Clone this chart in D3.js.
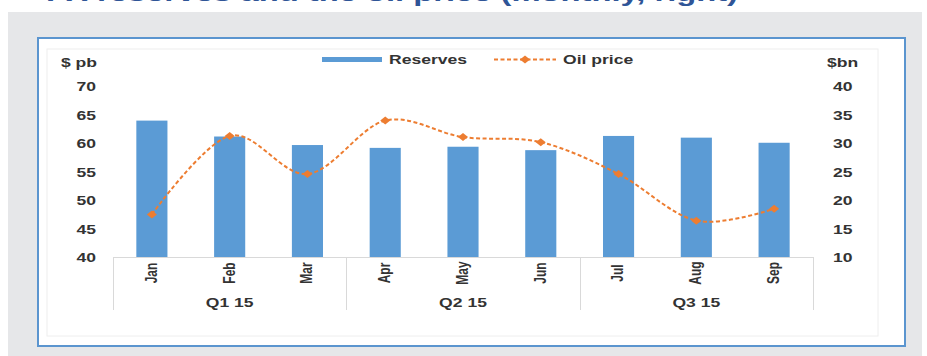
<!DOCTYPE html>
<html>
<head>
<meta charset="utf-8">
<script src="https://cdn.jsdelivr.net/npm/d3@7"></script>
<style>
  html, body { margin: 0; padding: 0; background: #ffffff; }
  svg { display: block; }
  text { font-family: "Liberation Sans", Arial, sans-serif; }
</style>
</head>
<body>
<svg id="chart" width="927" height="356"></svg>
<script>
// Monthly data, 2015
const months = ["Jan", "Feb", "Mar", "Apr", "May", "Jun", "Jul", "Aug", "Sep"];
const quarters = ["Q1 15", "Q2 15", "Q3 15"];
const reserves = [34.0, 31.2, 29.7, 29.2, 29.4, 28.8, 31.3, 31.0, 30.1];   // $bn, right axis
const oilPrice = [47.5, 61.3, 54.6, 64.0, 61.1, 60.2, 54.6, 46.4, 48.5];   // $ pb, left axis
const leftTicks = [40, 45, 50, 55, 60, 65, 70];
const rightTicks = [10, 15, 20, 25, 30, 35, 40];

const BLUE = "#5B9BD5", ORANGE = "#ED7D31", INK = "#333333";
const SX = 1.35; // horizontal widening applied to all chart lettering

const svg = d3.select("#chart");

// Heading strip (runs off the top edge) and panel background
svg.append("text")
  .attr("transform", "translate(46,1)")
  .attr("textLength", 692).attr("lengthAdjust", "spacingAndGlyphs")
  .attr("font-family", "'Open Sans', sans-serif")
  .attr("font-weight", "bold").attr("font-size", 22).attr("fill", "#2F5597")
  .text("FX reserves and the oil price (monthly, right)");

svg.append("rect").attr("x", 8).attr("y", 12).attr("width", 914).attr("height", 344).attr("fill", "#E6E7E9");
svg.append("rect").attr("x", 38).attr("y", 38).attr("width", 867).attr("height", 308)
  .attr("fill", "#ffffff").attr("stroke", "#5B95CF").attr("stroke-width", 2);
svg.append("rect").attr("x", 47).attr("y", 49).attr("width", 831).attr("height", 287)
  .attr("fill", "none").attr("stroke", "#eeeeee").attr("stroke-width", 1);

// Scales
const x = d3.scaleBand().domain(months).range([113, 813]).paddingInner(0.6).paddingOuter(0.3);
const yL = d3.scaleLinear().domain([40, 70]).range([257, 86.5]);
const yR = d3.scaleLinear().domain([10, 40]).range([257, 86.5]);

// Bars: reserves on the right axis
svg.append("g").selectAll("rect").data(reserves).join("rect")
  .attr("x", (d, i) => x(months[i]))
  .attr("width", x.bandwidth())
  .attr("y", d => yR(d))
  .attr("height", d => yR(10) - yR(d))
  .attr("fill", BLUE);

// Oil price line: smoothed, dashed, diamond markers
const line = d3.line()
  .x((d, i) => x(months[i]) + x.bandwidth() / 2)
  .y(d => yL(d))
  .curve(d3.curveCardinal.tension(0));
svg.append("path").datum(oilPrice)
  .attr("d", line).attr("fill", "none")
  .attr("stroke", ORANGE).attr("stroke-width", 2).attr("stroke-dasharray", "4,2.5");

const diamond = "M0,-4L5,0L0,4L-5,0Z";
svg.append("g").selectAll("path").data(oilPrice).join("path")
  .attr("transform", (d, i) => `translate(${x(months[i]) + x.bandwidth() / 2},${yL(d)})`)
  .attr("d", diamond).attr("fill", ORANGE);

// Value axes
function styleAxis(g) {
  g.select(".domain").remove();
  g.selectAll(".tick line").remove();
  g.selectAll(".tick text")
    .attr("font-family", "'Liberation Sans', Arial, sans-serif")
    .attr("font-size", 13).attr("font-weight", "bold").attr("fill", INK)
    .attr("x", 0).attr("dy", "0.34em")
    .attr("transform", `scale(${SX},1)`);
}
svg.append("g").attr("transform", "translate(96,0)")
  .call(d3.axisLeft(yL).tickValues(leftTicks).tickSize(0).tickPadding(0))
  .call(styleAxis);
svg.append("g").attr("transform", "translate(833,0)")
  .call(d3.axisRight(yR).tickValues(rightTicks).tickSize(0).tickPadding(0))
  .call(styleAxis);

function label(tx, ty, str, anchor, size) {
  return svg.append("text")
    .attr("transform", `translate(${tx},${ty}) scale(${SX},1)`)
    .attr("text-anchor", anchor).attr("dy", "0.36em")
    .attr("font-size", size || 13).attr("font-weight", "bold").attr("fill", INK)
    .text(str);
}
label(97, 62.5, "$ pb", "end");
label(827, 62.5, "$bn", "start");

// Category axis with quarter grouping
const axisColor = "#d9d9d9";
svg.append("line").attr("x1", 113).attr("x2", 813).attr("y1", 257.5).attr("y2", 257.5)
  .attr("stroke", axisColor).attr("stroke-width", 1);
const bounds = [0, 3, 6, 9].map(i => i < 9 ? x.step() * i + x.range()[0] : x.range()[1]);
svg.append("g").selectAll("line").data(bounds).join("line")
  .attr("x1", d => Math.round(d) + 0.5).attr("x2", d => Math.round(d) + 0.5)
  .attr("y1", 257).attr("y2", 310)
  .attr("stroke", axisColor).attr("stroke-width", 1);

svg.append("g").selectAll("text").data(months).join("text")
  .attr("transform", d => `translate(${x(d) + x.bandwidth() / 2 - 1},273) scale(${SX},1) rotate(-90)`)
  .attr("text-anchor", "middle").attr("dy", "0.36em")
  .attr("font-size", 12).attr("font-weight", "bold").attr("fill", INK)
  .text(d => d);

quarters.forEach((q, i) => {
  label((bounds[i] + bounds[i + 1]) / 2, 302.5, q, "middle");
});

// Legend
const lg = svg.append("g");
lg.append("rect").attr("x", 322).attr("y", 57).attr("width", 60).attr("height", 5).attr("fill", BLUE);
label(389, 59.5, "Reserves", "start");
lg.append("line").attr("x1", 494).attr("x2", 556).attr("y1", 59.5).attr("y2", 59.5)
  .attr("stroke", ORANGE).attr("stroke-width", 2).attr("stroke-dasharray", "4,2.5");
lg.append("path").attr("transform", "translate(525,59.5)").attr("d", diamond).attr("fill", ORANGE);
label(563, 59.5, "Oil price", "start");
</script>
</body>
</html>
